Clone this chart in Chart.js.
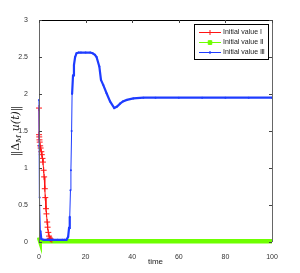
<!DOCTYPE html>
<html>
<head>
<meta charset="utf-8">
<script src="https://cdn.jsdelivr.net/npm/chart.js@4.4.1/dist/chart.umd.min.js"></script>
<style>
  html, body { margin: 0; padding: 0; background: #fff; }
  #wrap { width: 300px; height: 273px; }
</style>
</head>
<body>
<div id="wrap"><canvas id="normChart"></canvas></div>
<script>
    // 数据 (从图上读出来的)
    const labels = ['Initial value I', 'Initial value Ⅱ', 'Initial value Ⅲ'];

    const tRed = [0, 0.02, 0.1, 0.2, 0.3, 0.5, 0.7, 1, 1.2, 1.5, 1.7, 2, 2.2, 2.5, 2.7, 3, 3.2, 3.5, 3.7, 4, 4.3, 4.6, 5, 5.5];
    const vRed = [1.81, 1.45, 1.42, 1.38, 1.35, 1.30, 1.27, 1.22, 1.18, 1.13, 1.08, 0.97, 0.88, 0.72, 0.60, 0.45, 0.38, 0.27, 0.20, 0.13, 0.08, 0.05, 0.04, 0.03];

    const tGreen = [0, 0.3, 0.8, 2, 5, 10, 20, 30, 40, 50, 60, 70, 80, 90, 100];
    const vGreen = [0.06, 0.03, 0.01, 0.01, 0.01, 0.01, 0.01, 0.01, 0.01, 0.01, 0.01, 0.01, 0.01, 0.01, 0.01];

    const tBlue = [0, 0.1, 0.3, 0.6, 1, 2, 4, 6, 8, 10, 11, 11.8, 12.5, 12.9, 13.2, 13.5, 13.7, 14.0, 14.2, 14.6, 15.0, 15.5, 16.1, 17, 18, 20, 22, 23, 24, 24.7, 25.9, 26.6, 27.6, 29.0, 30.5, 32.3, 33.5, 34.8, 36, 37.7, 40.5, 44.8, 50, 60, 70, 80, 90, 100];
    const vBlue = [1.92, 1.30, 0.60, 0.15, 0.04, 0.03, 0.03, 0.03, 0.03, 0.03, 0.03, 0.03, 0.07, 0.19, 0.34, 0.70, 0.97, 1.50, 2.00, 2.25, 2.39, 2.50, 2.55, 2.56, 2.56, 2.56, 2.56, 2.55, 2.53, 2.50, 2.37, 2.19, 2.12, 2.01, 1.90, 1.81, 1.83, 1.87, 1.90, 1.92, 1.94, 1.95, 1.95, 1.95, 1.95, 1.95, 1.95, 1.95];

    const xTicks = [0, 20, 40, 60, 80, 100];
    const yTicks = [0, 0.5, 1, 1.5, 2, 2.5, 3];

    const RED = 'rgb(255, 20, 20)';
    const GREEN = 'rgb(110, 255, 0)';
    const BLUE = 'rgb(30, 60, 255)';

    function toPoints(ts, vs) {
        return ts.map(function(t, i) { return { x: t, y: vs[i] }; });
    }

    // 坐标轴框、刻度、图例、轴标题
    const framePlugin = {
        id: 'frame',
        afterDraw: function(chart) {
            const ctx = chart.ctx;
            const a = chart.chartArea;
            const xs = chart.scales.x, ys = chart.scales.y;
            ctx.save();
            ctx.lineWidth = 1;
            // 框
            ctx.strokeStyle = '#000';
            ctx.beginPath();
            ctx.moveTo(a.left, a.top + 0.5);
            ctx.lineTo(a.right, a.top + 0.5);
            ctx.stroke();
            ctx.strokeStyle = '#666';
            ctx.beginPath();
            ctx.moveTo(a.left + 0.5, a.top);
            ctx.lineTo(a.left + 0.5, a.bottom);
            ctx.moveTo(a.right + 0.5, a.top);
            ctx.lineTo(a.right + 0.5, a.bottom);
            ctx.stroke();
            // 内向刻度
            ctx.strokeStyle = '#444';
            ctx.beginPath();
            xTicks.forEach(function(v) {
                const px = Math.round(xs.getPixelForValue(v)) + 0.5;
                ctx.moveTo(px, a.top);
                ctx.lineTo(px, a.top + 3);
            });
            yTicks.forEach(function(v) {
                const py = Math.round(ys.getPixelForValue(v)) + 0.5;
                ctx.moveTo(a.right, py);
                ctx.lineTo(a.right - 3, py);
                ctx.moveTo(a.left, py);
                ctx.lineTo(a.left + 3, py);
            });
            ctx.stroke();

            // 图例
            const lx = 194, ly = 24, lw = 74, lh = 35;
            ctx.fillStyle = '#fff';
            ctx.fillRect(lx, ly, lw, lh);
            ctx.strokeStyle = '#000';
            ctx.strokeRect(lx + 0.5, ly + 0.5, lw, lh);
            ctx.font = '7px "Liberation Sans", Arial, sans-serif';
            ctx.textBaseline = 'middle';
            ctx.textAlign = 'left';
            const colors = [RED, GREEN, BLUE];
            for (let i = 0; i < 3; i++) {
                const yy = ly + 8 + i * 10 + 0.5;
                ctx.strokeStyle = colors[i];
                ctx.lineWidth = 1;
                ctx.beginPath();
                ctx.moveTo(lx + 5, yy);
                ctx.lineTo(lx + 27, yy);
                ctx.stroke();
                const mx = lx + 16;
                ctx.beginPath();
                if (i === 0) {
                    ctx.moveTo(mx - 2.5, yy); ctx.lineTo(mx + 2.5, yy);
                    ctx.moveTo(mx, yy - 2.5); ctx.lineTo(mx, yy + 2.5);
                    ctx.stroke();
                } else if (i === 1) {
                    ctx.lineWidth = 1.5;
                    ctx.moveTo(mx - 2, yy - 2); ctx.lineTo(mx + 2, yy + 2);
                    ctx.moveTo(mx - 2, yy + 2); ctx.lineTo(mx + 2, yy - 2);
                    ctx.moveTo(mx - 2.5, yy); ctx.lineTo(mx + 2.5, yy);
                    ctx.moveTo(mx, yy - 2.5); ctx.lineTo(mx, yy + 2.5);
                    ctx.stroke();
                } else {
                    ctx.fillStyle = colors[i];
                    ctx.arc(mx, yy, 1.2, 0, Math.PI * 2);
                    ctx.fill();
                }
                ctx.fillStyle = '#222';
                ctx.fillText(labels[i], lx + 29, yy);
            }

            // x 轴标题
            ctx.fillStyle = '#222';
            ctx.font = '8px "Liberation Sans", Arial, sans-serif';
            ctx.textAlign = 'center';
            ctx.textBaseline = 'middle';
            ctx.fillText('time', (a.left + a.right) / 2, 262);

            // y 轴标题 ||Δ_M u(t)||
            ctx.translate(16, 131);
            ctx.rotate(-Math.PI / 2);
            const parts = [
                { s: '‖Δ', f: '11px "DejaVu Serif", serif', dy: 0 },
                { s: 'M', f: 'italic 8px "DejaVu Serif", serif', dy: 3 },
                { s: ' u(t)', f: 'italic 11px "DejaVu Serif", serif', dy: 0 },
                { s: '‖', f: '11px "DejaVu Serif", serif', dy: 0 }
            ];
            let total = 0;
            parts.forEach(function(p) { ctx.font = p.f; p.w = ctx.measureText(p.s).width; total += p.w; });
            let cx = -total / 2;
            ctx.textAlign = 'left';
            ctx.fillStyle = '#222';
            parts.forEach(function(p) {
                ctx.font = p.f;
                ctx.fillText(p.s, cx, p.dy);
                cx += p.w;
            });
            ctx.restore();
        }
    };

    const tickFont = { size: 7, family: '"Liberation Sans", Arial, sans-serif' };

    const config = {
        type: 'scatter',
        data: {
            datasets: [
                {
                    label: labels[2],
                    data: toPoints(tBlue, vBlue),
                    showLine: true,
                    borderColor: BLUE,
                    backgroundColor: BLUE,
                    borderWidth: 2.2,
                    pointRadius: 1,
                    pointBorderWidth: 0,
                    segment: {
                        borderWidth: function(c) {
                            const dx = c.p1.parsed.x - c.p0.parsed.x;
                            const dy = Math.abs(c.p1.parsed.y - c.p0.parsed.y);
                            return (dy / dx > 1) ? 1 : 2.2;
                        }
                    },
                    order: 0
                },
                {
                    label: labels[0],
                    data: toPoints(tRed, vRed),
                    showLine: true,
                    borderColor: RED,
                    backgroundColor: RED,
                    borderWidth: 1,
                    pointStyle: 'cross',
                    pointRadius: 3,
                    pointBorderWidth: 1,
                    order: 1
                },
                {
                    label: labels[1],
                    data: toPoints(tGreen, vGreen),
                    showLine: true,
                    borderColor: GREEN,
                    backgroundColor: GREEN,
                    borderWidth: 4.5,
                    pointRadius: 0,
                    order: 2
                }
            ]
        },
        options: {
            responsive: true,
            maintainAspectRatio: false,
            animation: false,
            clip: false,
            layout: { padding: { top: 20, right: 28, left: 0, bottom: 0 } },
            plugins: {
                legend: { display: false },
                tooltip: { enabled: false }
            },
            scales: {
                x: {
                    type: 'linear',
                    min: 0,
                    max: 100,
                    afterFit: function(s) { s.height = 31; },
                    afterBuildTicks: function(s) { s.ticks = xTicks.map(function(v) { return { value: v }; }); },
                    grid: { display: false },
                    border: { display: false },
                    ticks: {
                        padding: 3,
                        color: '#333',
                        font: tickFont,
                        callback: function(v) { return String(v); }
                    }
                },
                y: {
                    min: 0,
                    max: 3,
                    afterFit: function(s) { s.width = 39; },
                    afterBuildTicks: function(s) { s.ticks = yTicks.map(function(v) { return { value: v }; }); },
                    grid: { display: false },
                    border: { display: false },
                    ticks: {
                        padding: 3,
                        color: '#333',
                        font: tickFont,
                        callback: function(v) { return String(v); }
                    }
                }
            }
        },
        plugins: [framePlugin]
    };

    const myChart = new Chart(document.getElementById('normChart'), config);
</script>
</body>
</html>
